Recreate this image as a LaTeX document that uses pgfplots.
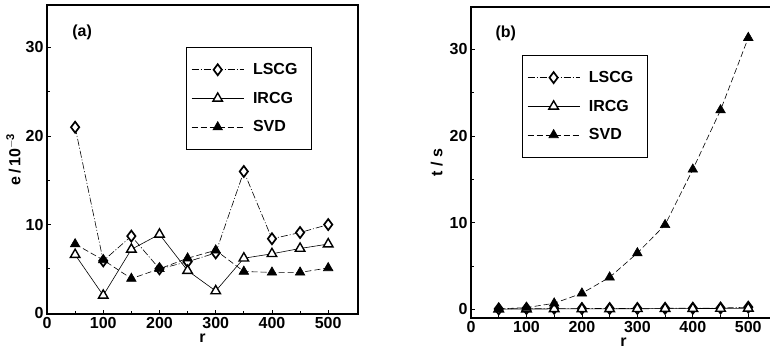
\documentclass[border=0pt]{standalone}
\usepackage{fontspec}
\setmainfont{Liberation Sans}
\usepackage{pgfplots}
\pgfplotsset{compat=1.18}

% error (units of 1e-3) versus r
\newcommand{\errLSCG}{(50,21.0) (100,5.9) (150,8.7) (200,5.0) (250,5.8) (300,6.8) (350,16.0) (400,8.4) (450,9.1) (500,10.0)}
\newcommand{\errIRCG}{(50,6.6) (100,2.0) (150,7.2) (200,8.9) (250,4.8) (300,2.5) (350,6.2) (400,6.7) (450,7.3) (500,7.8)}
\newcommand{\errSVD}{(50,7.8) (100,6.0) (150,3.9) (200,5.0) (250,6.2) (300,7.1) (350,4.7) (400,4.6) (450,4.6) (500,5.1)}
% run time (s) versus r
\newcommand{\tLSCG}{(50,0.05) (100,0.10) (150,0.12) (200,0.10) (250,0.10) (300,0.10) (350,0.12) (400,0.13) (450,0.15) (500,0.25)}
\newcommand{\tIRCG}{(50,0.02) (100,0.03) (150,0.05) (200,0.05) (250,0.06) (300,0.07) (350,0.08) (400,0.09) (450,0.10) (500,0.12)}
\newcommand{\tSVD}{(50,0.05) (100,0.2) (150,0.7) (200,1.85) (250,3.7) (300,6.5) (350,9.75) (400,16.15) (450,23.0) (500,31.35)}

\newcommand{\bigbf}{\fontsize{16}{18}\selectfont\bfseries}

\pgfplotsset{
  panel/.style={
    scale only axis,
    axis line style={line width=1.1pt},
    tick style={line width=0.8pt, black},
    tick align=inside,
    major tick length=4pt, minor tick length=3pt,
    xtick pos=bottom, ytick pos=left,
    xtick={0,100,...,500}, minor xtick={50,150,...,450},
    ytick={0,10,20,30}, minor ytick={5,15,25},
    xmin=0, xmax=553,
    tick label style={font=\bigbf},
    /pgf/number format/assume math mode=true,
    label style={font=\bigbf},
    xlabel={r},
    xlabel style={yshift=2pt},
    every axis plot/.append style={line width=0.6pt, black},
    legend cell align=left,
    legend style={draw=black, line width=0.8pt, anchor=north west,
      font=\bigbf,
      inner xsep=5pt, inner ysep=14pt, row sep=12pt,
      nodes={inner xsep=9pt}},
    legend image code/.code={
      \draw[mark repeat=2, mark phase=2, #1]
        plot coordinates {(0pt,0pt) (26pt,0pt) (52pt,0pt)};},
  },
  lscg/.style={dash pattern=on 7pt off 2pt on 1pt off 2pt,
    mark=diamond*, mark size=5.5pt,
    mark options={solid, fill=white, line width=1.7pt}},
  ircg/.style={solid, mark=triangle*, mark size=5.5pt,
    mark options={solid, fill=white, line width=1.4pt}},
  svd/.style={dash pattern=on 6pt off 3pt,
    mark=triangle*, mark size=5.5pt,
    mark options={solid, fill=black}},
}

\begin{document}
\begin{tikzpicture}[x=1pt,y=1pt]
\begin{axis}[panel,
  at={(47pt,43pt)}, anchor=south west,
  width=311pt, height=309pt,
  ymin=-0.1, ymax=34.8,
  ylabel={e\,/\,10$^{\mathbf{-3}}$},
  ylabel style={yshift=-2pt},
  legend style={at={(0.447,0.864)}},
]
\addplot[lscg] coordinates {\errLSCG};
\addplot[ircg] coordinates {\errIRCG};
\addplot[svd] coordinates {\errSVD};
\legend{LSCG, IRCG, SVD}
\node[anchor=west, font=\bigbf] at (rel axis cs:0.07,0.913) {(a)};
\end{axis}

\begin{axis}[panel,
  at={(471pt,39pt)}, anchor=south west,
  width=305pt, height=311pt,
  xmax=550,
  ymin=-1, ymax=34.9,
  ylabel={t / s},
  legend style={at={(0.167,0.846)}},
]
\addplot[lscg] coordinates {\tLSCG};
\addplot[ircg] coordinates {\tIRCG};
\addplot[svd] coordinates {\tSVD};
\legend{LSCG, IRCG, SVD}
\node[anchor=west, font=\bigbf] at (rel axis cs:0.069,0.916) {(b)};
\end{axis}

\pgfresetboundingbox
\useasboundingbox (0pt,0pt) rectangle (770pt,357pt);
\end{tikzpicture}
\end{document}
